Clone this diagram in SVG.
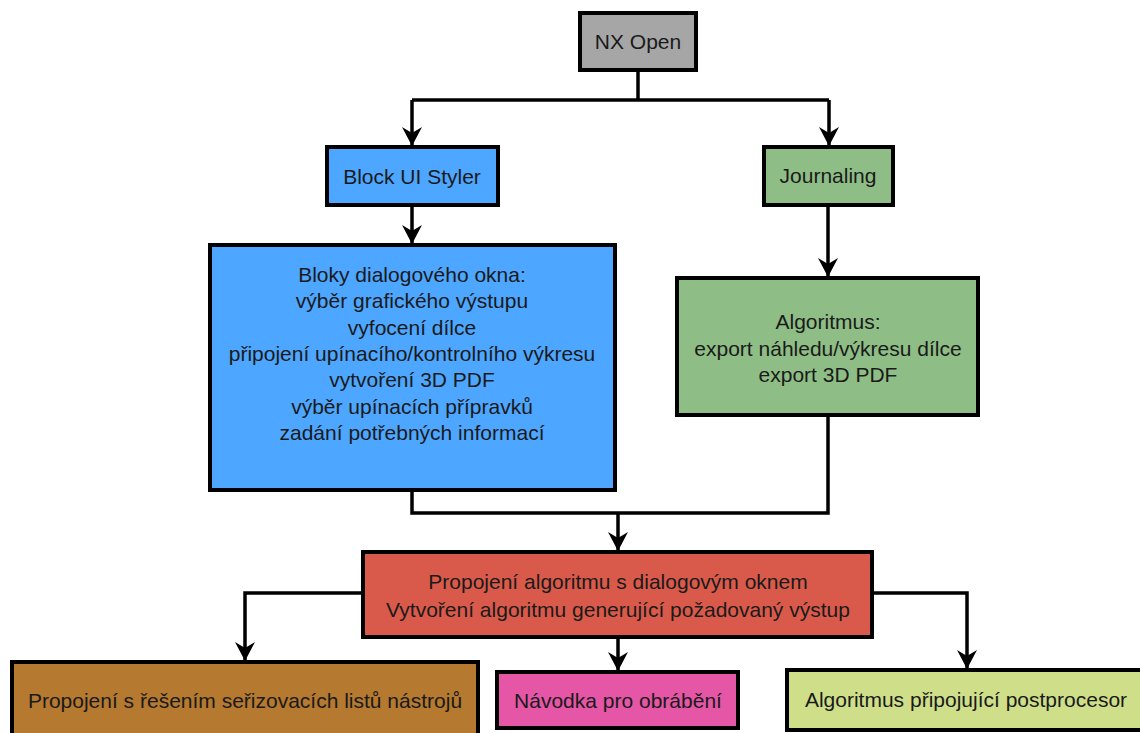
<svg xmlns="http://www.w3.org/2000/svg" width="1140" height="733" viewBox="0 0 1140 733">
<style>
.box{stroke:#000;stroke-width:4}
.t{font-family:"Liberation Sans",Arial,sans-serif;font-size:21px;fill:#1a1a1a;text-anchor:middle}
.c{fill:none;stroke:#000;stroke-width:3.5}
</style>
<defs>
<marker id="ah" markerUnits="userSpaceOnUse" markerWidth="24" markerHeight="24" viewBox="-22 -12 24 24" refX="0" refY="0" orient="auto">
<path d="M0,0 L-19,-10 L-13,0 L-19,10 Z" fill="#000"/>
</marker>
</defs>
<rect width="1140" height="733" fill="#fff"/>
<g id="connectors">
<path class="c" d="M638,70 V100"/>
<path class="c" d="M412,100 H829"/>
<path class="c" d="M412,100 V146" marker-end="url(#ah)"/>
<path class="c" d="M829,100 V146" marker-end="url(#ah)"/>
<path class="c" d="M412,205 V244" marker-end="url(#ah)"/>
<path class="c" d="M828,205 V277" marker-end="url(#ah)"/>
<path class="c" d="M412,490 V513 H828 V415"/>
<path class="c" d="M618,513 V551" marker-end="url(#ah)"/>
<path class="c" d="M363,593 H245 V661" marker-end="url(#ah)"/>
<path class="c" d="M618,637 V671" marker-end="url(#ah)"/>
<path class="c" d="M872,593 H967 V669" marker-end="url(#ah)"/>
</g>
<g id="nx-open">
<rect class="box" x="580" y="13" width="116" height="57" fill="#a6a6a6"/>
<text class="t" x="638" y="49">NX Open</text>
</g>
<g id="block-ui-styler">
<rect class="box" x="327" y="147" width="171" height="58" fill="#4da6ff"/>
<text class="t" x="412" y="184">Block UI Styler</text>
</g>
<g id="journaling">
<rect class="box" x="764" y="147" width="129" height="58" fill="#8ebe86"/>
<text class="t" x="828" y="183">Journaling</text>
</g>
<g id="bloky">
<rect class="box" x="210" y="245" width="405" height="245" fill="#4da6ff"/>
<text class="t" x="412" y="282">Bloky dialogového okna:</text>
<text class="t" x="412" y="308">výběr grafického výstupu</text>
<text class="t" x="412" y="335">vyfocení dílce</text>
<text class="t" x="412" y="361">připojení upínacího/kontrolního výkresu</text>
<text class="t" x="412" y="387">vytvoření 3D PDF</text>
<text class="t" x="412" y="414">výběr upínacích přípravků</text>
<text class="t" x="412" y="440">zadání potřebných informací</text>
</g>
<g id="algoritmus">
<rect class="box" x="677" y="278" width="301" height="137" fill="#8ebe86"/>
<text class="t" x="828" y="329">Algoritmus:</text>
<text class="t" x="828" y="356">export náhledu/výkresu dílce</text>
<text class="t" x="828" y="382">export 3D PDF</text>
</g>
<g id="propojeni">
<rect class="box" x="363" y="552" width="509" height="85" fill="#d95a4b"/>
<text class="t" x="618" y="589">Propojení algoritmu s dialogovým oknem</text>
<text class="t" x="618" y="617">Vytvoření algoritmu generující požadovaný výstup</text>
</g>
<g id="serizovaci">
<rect class="box" x="12" y="662" width="466" height="80" fill="#b5792f"/>
<text class="t" x="245" y="708">Propojení s řešením seřizovacích listů nástrojů</text>
</g>
<g id="navodka">
<rect class="box" x="497" y="672" width="241" height="56" fill="#e556a6"/>
<text class="t" x="618" y="708">Návodka pro obrábění</text>
</g>
<g id="postprocesor">
<rect class="box" x="787" y="670" width="360" height="60" fill="#cfdf89"/>
<text class="t" x="966" y="707">Algoritmus připojující postprocesor</text>
</g>
</svg>
